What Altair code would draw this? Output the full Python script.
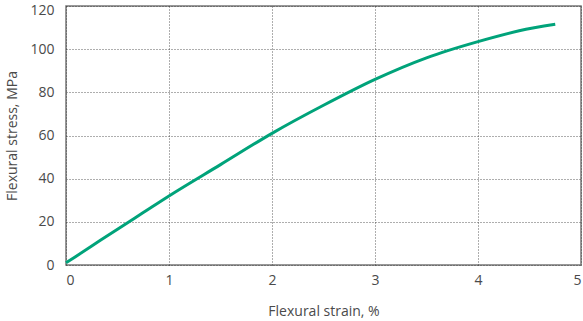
import altair as alt
import pandas as pd

strain = [0.0, 0.25, 0.5, 0.75, 1.0, 1.5, 2.0, 2.5, 3.0, 3.5, 4.0, 4.4, 4.75]
stress = [1.0, 8.8, 16.6, 24.3, 32.0, 46.5, 61.0, 74.0, 86.0, 96.0, 103.5, 108.5, 111.5]

df = pd.DataFrame({"strain": strain, "stress": stress})

font = "Open Sans"
txt = "#4a4a4a"

chart = alt.Chart(df).mark_line(color="#00a37a", strokeWidth=3, interpolate="monotone").encode(
    x=alt.X("strain:Q", scale=alt.Scale(domain=[0, 5], nice=False),
            axis=alt.Axis(title="Flexural strain, %", values=[0, 1, 2, 3, 4, 5], format="d",
                          labelPadding=8, titlePadding=17)),
    y=alt.Y("stress:Q", scale=alt.Scale(domain=[0, 120], nice=False),
            axis=alt.Axis(title="Flexural stress, MPa", values=[0, 20, 40, 60, 80, 100, 120],
                          labelPadding=12, titlePadding=10,
                          labelOffset=alt.expr("datum.value == 120 ? 4 : 0"))),
).properties(
    width=515, height=259,
    background="white",
    autosize=alt.AutoSizeParams(type="none"),
    padding={"left": 66, "top": 6, "right": 2, "bottom": 56},
).configure_axis(
    grid=True, gridColor="#333333", gridDash=[1, 2], gridWidth=0.8,
    domain=False, ticks=False,
    labelFont=font, labelFontSize=14, labelColor=txt,
    titleFont=font, titleFontSize=14, titleColor=txt, titleFontWeight="normal",
).configure_view(stroke="#777777", strokeWidth=1.5)

chart.save("out.html", embed_options={"renderer": "svg", "actions": False})
